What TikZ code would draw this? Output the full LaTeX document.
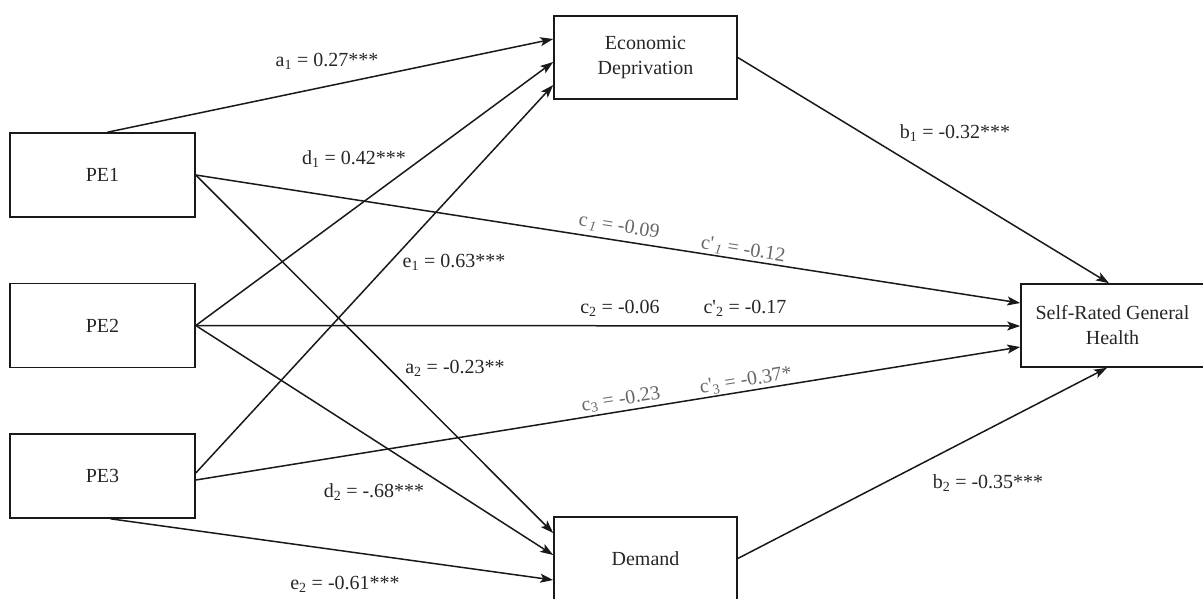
\documentclass[tikz,border=0pt]{standalone}
\usepackage{fontspec}
\setmainfont{Liberation Serif}
\usetikzlibrary{arrows.meta,calc}
\begin{document}
\begin{tikzpicture}[x=1pt,y=-1pt,
  box/.style={draw=black!90, line width=1.6pt, inner sep=0pt, align=center,
    font=\fontsize{20}{25}\selectfont, text=black!85},
  pebox/.style={box, minimum width=185pt, minimum height=84pt},
  mbox/.style={box, minimum width=183pt, minimum height=83pt},
  conn/.style={draw=black!90, line width=1.5pt, -{Stealth[length=13pt,width=9pt,inset=3pt]}},
  lab/.style={font=\fontsize{20}{24}\selectfont, text=black!85, inner sep=1pt},
  glab/.style={lab, text=black!60}]
\useasboundingbox (0,0) rectangle (1203,598);
% boxes
\node[pebox] (PE1) at (102.5,175) {PE1};
\node[pebox] (PE2) at (102.5,325.5) {PE2};
\node[pebox] (PE3) at (102.5,476) {PE3};
\node[mbox] (ED) at (645.5,57.5) {Economic\\Deprivation};
\node[mbox] (Dem) at (645.5,558.5) {Demand};
\node[mbox] (SR) at (1112.5,325.5) {Self-Rated General\\Health};
% connectors
\draw[conn] ($(PE1.north)+(5,0)$) -- ($(ED.west)+(0,-18.5)$);
\draw[conn] (PE2.east) -- ($(ED.west)+(0,4.5)$);
\draw[conn] ($(PE3.east)+(0,-3)$) -- ($(ED.west)+(0,27.5)$);
\draw[conn] (PE1.east) -- ($(Dem.west)+(0,-25.5)$);
\draw[conn] (PE2.east) -- ($(Dem.west)+(0,-3.5)$);
\draw[conn] ($(PE3.south)+(8,0)$) -- ($(Dem.west)+(0,21.5)$);
\draw[conn] (PE1.east) -- ($(SR.west)+(0,-22.5)$);
\draw[conn] (PE2.east) -- ($(SR.west)+(0,0.5)$);
\draw[conn] ($(PE3.east)+(0,4)$) -- ($(SR.west)+(0,21.5)$);
\draw[conn] (ED.east) -- ($(SR.north)+(-3.5,0)$);
\draw[conn] (Dem.east) -- ($(SR.south)+(-5.5,0)$);
% labels
\node[lab] (la1) at (327,61) {a\textsubscript{1} = 0.27***};
\node[lab] (ld1) at (354,159) {d\textsubscript{1} = 0.42***};
\node[lab] (le1) at (454,262) {e\textsubscript{1} = 0.63***};
\node[lab] (la2) at (455,368) {a\textsubscript{2} = -0.23**};
\node[lab] (ld2) at (374,492) {d\textsubscript{2} = -.68***};
\node[lab] (le2) at (345,584) {e\textsubscript{2} = -0.61***};
\node[lab] (lb1) at (955,133) {b\textsubscript{1} = -0.32***};
\node[lab] (lb2) at (988,483) {b\textsubscript{2} = -0.35***};
\node[glab, rotate=-8.8] (lc1) at (619,227) {c\kern2pt\textsubscript{\textit{1}} = -0.09};
\node[glab, rotate=-8.8] (lcp1) at (743,250) {c\textquotesingle\kern2pt\textsubscript{\textit{1}} = -0.12};
\node[lab] (lc2) at (620,308) {c\textsubscript{2} = -0.06};
\node[lab] (lcp2) at (745,308) {c\textquotesingle\textsubscript{2} = -0.17};
\node[glab, rotate=9.1] (lc3) at (621,400) {c\textsubscript{3} = -0.23};
\node[glab, rotate=9.1] (lcp3) at (746,381) {c\textquotesingle\textsubscript{3} = -0.37*};
\end{tikzpicture}
\end{document}
